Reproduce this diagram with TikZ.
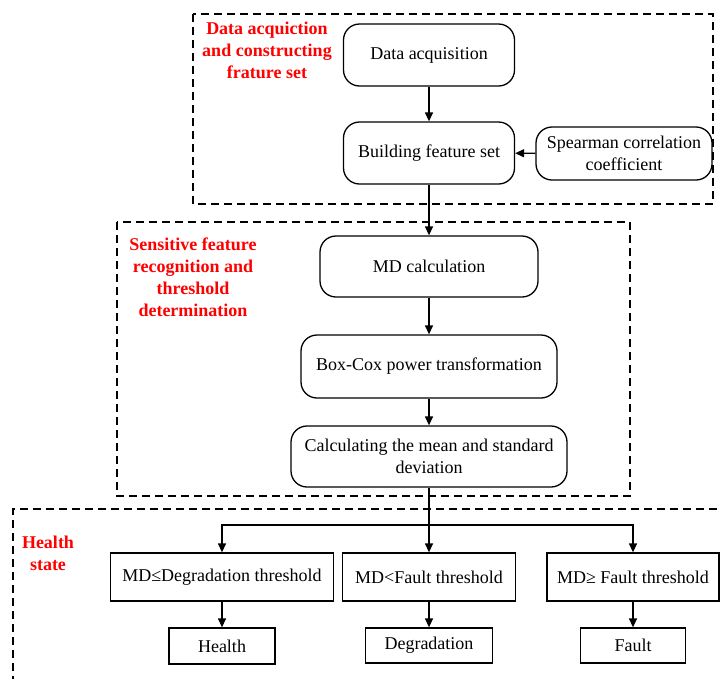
\documentclass[tikz,border=0pt]{standalone}
\usepackage{fontspec}
\setmainfont{Liberation Serif}
\usetikzlibrary{arrows.meta}
\tikzset{
  rbox/.style={draw, line width=1.3pt, rounded corners=16pt, align=center, inner sep=0pt},
  sbox/.style={draw, line width=1.3pt, align=center, inner sep=0pt},
  arr/.style={line width=1.3pt, -{Triangle[length=9pt,width=8pt]}},
  group/.style={line width=1.2pt, dash pattern=on 8pt off 5pt},
  tag/.style={text=red, font=\fontsize{18}{22}\selectfont\bfseries, align=center}
}
\begin{document}
\begin{tikzpicture}[x=1pt, y=-1pt, font=\fontsize{18}{22}\selectfont]
    \useasboundingbox (0,0) rectangle (720,678);
    \clip (0,0) rectangle (720,678);
    \draw[group] (193,14) rectangle (713,204);
    \draw[group] (117,222) rectangle (630,496);
    \draw[group] (730,509) -- (13,509) -- (13,690);
    \node[tag] (tagA) at (267,50) {Data acquiction\\and constructing\\frature set};
    \node[tag] (tagB) at (193,277) {Sensitive feature\\recognition and\\threshold\\determination};
    \node[tag] (tagC) at (48,553) {Health\\state};
    \node[rbox, minimum width=171pt, minimum height=62pt] (acq) at (429,55) {Data acquisition};
    \node[rbox, minimum width=171pt, minimum height=62pt] (build) at (429,153) {Building feature set};
    \node[rbox, minimum width=176pt, minimum height=53pt] (spear) at (624,153.5) {Spearman correlation\\coefficient};
    \node[rbox, minimum width=218pt, minimum height=61pt] (mdcalc) at (429,266.5) {MD calculation};
    \node[rbox, minimum width=256pt, minimum height=63pt] (boxcox) at (429,366.5) {Box-Cox power transformation};
    \node[rbox, minimum width=276pt, minimum height=61pt] (calc) at (429,456.5) {Calculating the mean and standard\\deviation};
    \node[sbox, minimum width=223pt, minimum height=48pt] (md1) at (222,577) {MD≤Degradation threshold};
    \node[sbox, minimum width=173pt, minimum height=48pt] (md2) at (429,577) {MD<Fault threshold};
    \node[sbox, minimum width=172pt, minimum height=48pt] (md3) at (633,577) {MD≥ Fault threshold};
    \node[sbox, minimum width=106pt, minimum height=36pt] (health) at (222,646) {Health};
    \node[sbox, minimum width=127pt, minimum height=35pt] (degr) at (429,645.5) {Degradation};
    \node[sbox, minimum width=105pt, minimum height=35pt] (fault) at (633,645.5) {Fault};
    \coordinate (split) at (429,525);
    \draw[arr] (acq) -- (build);
    \draw[arr] (spear) -- (build);
    \draw[arr] (build) -- (mdcalc);
    \draw[arr] (mdcalc) -- (boxcox);
    \draw[arr] (boxcox) -- (calc);
    \draw[arr] (calc) -- (md2);
    \draw[arr] (split) -| (md1);
    \draw[arr] (split) -| (md3);
    \draw[arr] (md1) -- (health);
    \draw[arr] (md2) -- (degr);
    \draw[arr] (md3) -- (fault);
\end{tikzpicture}
\end{document}
